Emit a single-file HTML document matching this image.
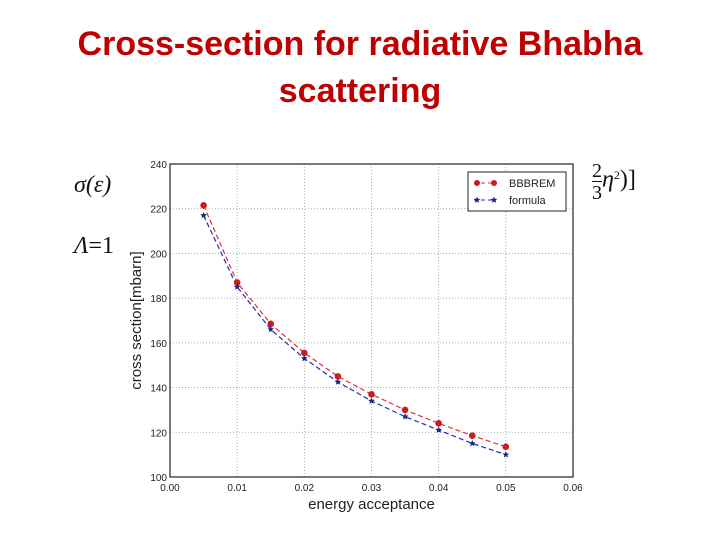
<!DOCTYPE html>
<html><head><meta charset="utf-8"><style>
body{margin:0;width:720px;height:540px;background:#fff;overflow:hidden;position:relative;font-family:"Liberation Sans",sans-serif}
.title{position:absolute;left:0;width:720px;top:21px;text-align:center;color:#c00000;font-weight:bold;font-size:34px;line-height:47px;font-family:"Liberation Sans",sans-serif}
.m{position:absolute;font-family:"Liberation Serif",serif;font-size:24px;color:#111}
</style></head><body>
<div class="title">Cross-section for radiative Bhabha<br>scattering</div>
<div class="m" style="left:74px;top:172px;font-style:italic">σ(ε)</div>
<div class="m" style="left:74px;top:233px"><i>Λ</i>=1</div>
<div class="m" style="left:592px;top:160px;font-size:20px;line-height:22px"><span style="display:inline-block;text-align:center;vertical-align:middle">2<br><span style="border-top:1px solid #111">3</span></span><i style="font-size:24px">η</i><sup style="font-size:12px">2</sup><span style="font-size:24px">)]</span></div>
<svg id="chart" width="720" height="540" style="position:absolute;left:0;top:0"></svg>
<script>
const xs=[0.005,0.01,0.015,0.02,0.025,0.03,0.035,0.04,0.045,0.05];
const bbbrem=[221.5,187,168.5,155.5,145,137,130,124,118.5,113.5];
const formula=[217,185,166,153,142.5,134,127,121,115,110];
const xTicks=["0.00","0.01","0.02","0.03","0.04","0.05","0.06"];
const yTicks=[100,120,140,160,180,200,220,240];
const L=170,R=573,T=164,B=477;
const X=v=>L+(v/0.06)*(R-L), Y=v=>B-(v-100)/140*(B-T);
const s=document.getElementById('chart'),NS='http://www.w3.org/2000/svg';
function mk(t,a,p){const e=document.createElementNS(NS,t);for(const k in a)e.setAttribute(k,a[k]);(p||s).appendChild(e);return e;}
xTicks.forEach((t,i)=>{const x=X(i*0.01);
 const g=mk('line',{x1:x,x2:x,y1:T,y2:B,stroke:'#999','stroke-dasharray':'1,2','stroke-width':0.8});
 
 const tx=mk('text',{x:x,y:B+14,'text-anchor':'middle','font-size':10,fill:'#222'});tx.textContent=t;
 });
yTicks.forEach(v=>{const y=Y(v);
 const g=mk('line',{x1:L,x2:R,y1:y,y2:y,stroke:'#999','stroke-dasharray':'1,2','stroke-width':0.8});
 
 const tx=mk('text',{x:L-3,y:y+4,'text-anchor':'end','font-size':10,fill:'#222'});tx.textContent=v;
 });
const fr=mk('rect',{x:L,y:T,width:R-L,height:B-T,fill:'none',stroke:'#222','stroke-width':1.2});

const xl=mk('text',{x:(L+R)/2,y:509,'text-anchor':'middle','font-size':15,fill:'#222'});xl.textContent='energy acceptance';

const yl=mk('text',{x:141,y:(T+B)/2,'text-anchor':'middle','font-size':15,fill:'#222',transform:`rotate(-90 141 ${(T+B)/2})`});yl.textContent='cross section[mbarn]';

function star(cx,cy,r,c){let p=[];for(let i=0;i<10;i++){const a=-Math.PI/2+i*Math.PI/5,rr=i%2?r*0.45:r;p.push((cx+rr*Math.cos(a)).toFixed(1)+','+(cy+rr*Math.sin(a)).toFixed(1));}return mk('polygon',{points:p.join(' '),fill:c});}
const bl=mk('polyline',{points:xs.map((x,i)=>X(x)+','+Y(bbbrem[i])).join(' '),fill:'none',stroke:'#e03030','stroke-dasharray':'5,3','stroke-width':1.2});

const fl=mk('polyline',{points:xs.map((x,i)=>X(x)+','+Y(formula[i])).join(' '),fill:'none',stroke:'#2030b0','stroke-dasharray':'5,3','stroke-width':1.2});

xs.forEach((x,i)=>{const c=mk('circle',{cx:X(x),cy:Y(bbbrem[i]),r:3.3,fill:'#c81e1e'});
 
 const st=star(X(x),Y(formula[i]),3.5,'#1a2380');
 });
const lg=mk('rect',{x:468,y:172,width:98,height:39,fill:'#fff',stroke:'#222','stroke-width':1});

mk('line',{x1:474,x2:496,y1:183,y2:183,stroke:'#e03030','stroke-dasharray':'4,3'});
mk('circle',{cx:477,cy:183,r:3,fill:'#c81e1e'});mk('circle',{cx:494,cy:183,r:3,fill:'#c81e1e'});
mk('line',{x1:474,x2:496,y1:200,y2:200,stroke:'#2030b0','stroke-dasharray':'4,3'});
star(477,200,3.5,'#1a2380');star(494,200,3.5,'#1a2380');
const t1=mk('text',{x:509,y:187,'font-size':11,fill:'#222'});t1.textContent='BBBREM';

const t2=mk('text',{x:509,y:204,'font-size':11,fill:'#222'});t2.textContent='formula';

</script>
</body></html>
